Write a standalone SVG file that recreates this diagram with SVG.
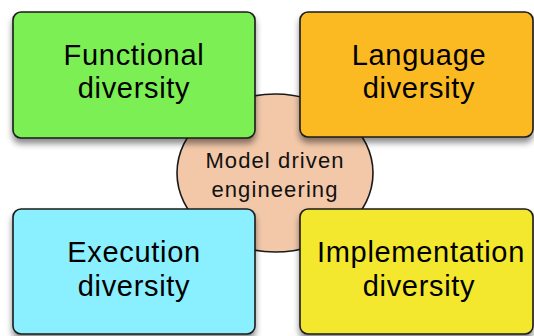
<svg xmlns="http://www.w3.org/2000/svg" width="534" height="336" viewBox="0 0 534 336">
  <style>
    .box { stroke: #1a1a1a; stroke-width: 1.6; filter: url(#shadow); }
    .lbl { font-family: "Liberation Sans", Arial, sans-serif; font-size: 29px; letter-spacing: 0.7px; fill: #000; text-anchor: middle; }
    .clbl { font-family: "Liberation Sans", Arial, sans-serif; font-size: 22px; letter-spacing: 1.1px; fill: #111; text-anchor: middle; }
  </style>
  <defs>
    <filter id="shadow" x="-10%" y="-10%" width="125%" height="135%">
      <feDropShadow dx="0" dy="5" stdDeviation="3" flood-color="#000" flood-opacity="0.45"/>
    </filter>
  </defs>
  <rect width="534" height="336" fill="#ffffff"/>
  <g id="connectors"/>
  <g id="model-driven-engineering">
    <ellipse cx="275" cy="173" rx="98" ry="79" fill="#F2C8A9" stroke="#1a1a1a" stroke-width="1.6"/>
    <text class="clbl" x="275" y="168">Model driven</text>
    <text class="clbl" x="275" y="197">engineering</text>
  </g>
  <g id="functional-diversity">
    <rect class="box" x="13" y="12" width="242" height="126" rx="8" fill="#7BEF55"/>
    <text class="lbl" x="134" y="65">Functional</text>
    <text class="lbl" x="134" y="98">diversity</text>
  </g>
  <g id="language-diversity">
    <rect class="box" x="300" y="12" width="233" height="125" rx="8" fill="#FBBA24"/>
    <text class="lbl" x="419" y="65">Language</text>
    <text class="lbl" x="419" y="98">diversity</text>
  </g>
  <g id="execution-diversity">
    <rect class="box" x="13" y="209" width="242" height="125" rx="8" fill="#8AF0FF"/>
    <text class="lbl" x="134" y="262">Execution</text>
    <text class="lbl" x="134" y="296">diversity</text>
  </g>
  <g id="implementation-diversity">
    <rect class="box" x="300" y="209" width="233" height="125" rx="8" fill="#F3E82E"/>
    <text class="lbl" x="421" y="262">Implementation</text>
    <text class="lbl" x="419" y="296">diversity</text>
  </g>
</svg>
